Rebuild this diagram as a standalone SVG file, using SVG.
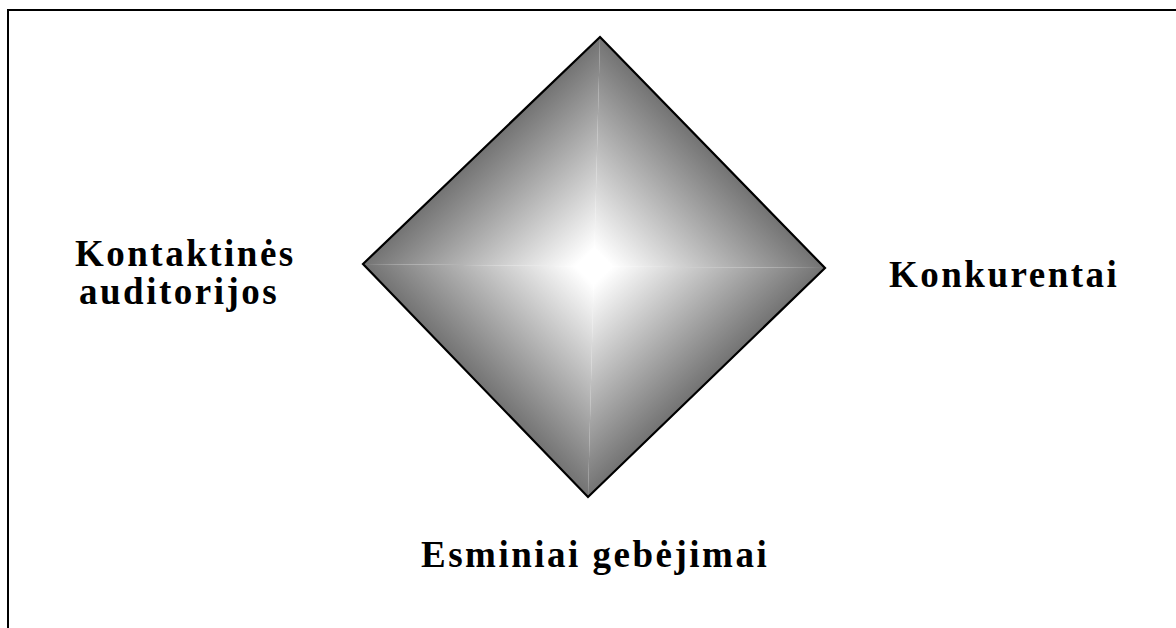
<svg xmlns="http://www.w3.org/2000/svg" width="1176" height="628" viewBox="0 0 1176 628">
<style>
.lbl{font-family:"Liberation Serif","Times New Roman",serif;font-weight:bold;font-size:37px;letter-spacing:2.5px;fill:#000}
.edge{fill:none;stroke:#000;stroke-width:2.2;stroke-linejoin:miter}
</style>
<defs>
<linearGradient id="g1" gradientUnits="userSpaceOnUse" x1="594" y1="266.5" x2="711.8" y2="151.8"><stop offset="0" stop-color="#fff"/><stop offset="0.08" stop-color="#fff"/><stop offset="1" stop-color="#737373"/></linearGradient>
<linearGradient id="g2" gradientUnits="userSpaceOnUse" x1="594" y1="266.5" x2="706.3" y2="382.7"><stop offset="0" stop-color="#fff"/><stop offset="0.08" stop-color="#fff"/><stop offset="1" stop-color="#737373"/></linearGradient>
<linearGradient id="g3" gradientUnits="userSpaceOnUse" x1="594" y1="266.5" x2="475.7" y2="380.7"><stop offset="0" stop-color="#fff"/><stop offset="0.08" stop-color="#fff"/><stop offset="1" stop-color="#737373"/></linearGradient>
<linearGradient id="g4" gradientUnits="userSpaceOnUse" x1="594" y1="266.5" x2="482.2" y2="149.8"><stop offset="0" stop-color="#fff"/><stop offset="0.08" stop-color="#fff"/><stop offset="1" stop-color="#737373"/></linearGradient>
</defs>
<rect x="8" y="10" width="1180" height="630" fill="#fff" stroke="#000" stroke-width="2"/>
<g id="diamond">
<polygon points="594,266.5 600,37 825,268" fill="url(#g1)"/>
<polygon points="594,266.5 825,268 588,497" fill="url(#g2)"/>
<polygon points="594,266.5 588,497 363,264" fill="url(#g3)"/>
<polygon points="594,266.5 363,264 600,37" fill="url(#g4)"/>
<polygon class="edge" points="600,37 825,268 588,497 363,264"/>
</g>
<g id="connectors"></g>
<g id="label-kontaktines">
<text class="lbl" x="75" y="266">Kontaktinės</text>
<text class="lbl" x="79" y="304">auditorijos</text>
</g>
<g id="label-konkurentai">
<text class="lbl" x="889" y="287">Konkurentai</text>
</g>
<g id="label-esminiai">
<text class="lbl" x="421" y="567">Esminiai gebėjimai</text>
</g>
</svg>
